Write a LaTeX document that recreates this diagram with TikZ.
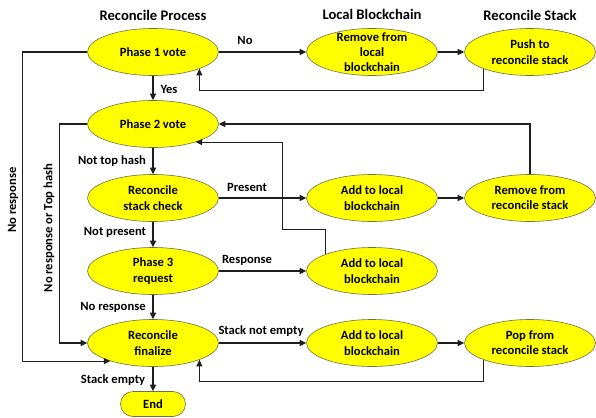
\documentclass[tikz,border=0pt]{standalone}
\usepackage{fontspec}
\setmainfont{Carlito}
\usetikzlibrary{shapes.geometric,shapes.misc,arrows.meta}
\definecolor{boxfill}{RGB}{255,255,0}
\definecolor{boxline}{RGB}{110,110,80}
\definecolor{wire}{RGB}{30,30,30}
\tikzset{
  stepnode/.style={ellipse, draw=boxline, line width=0.6pt, fill=boxfill,
    minimum width=131pt, minimum height=47pt, inner sep=0pt, align=center,
    font=\fontsize{12.6}{15.3}\selectfont\bfseries},
  endnode/.style={rounded rectangle, draw=boxline, line width=0.6pt, fill=boxfill,
    minimum width=65pt, minimum height=25pt, inner sep=0pt,
    font=\fontsize{12.6}{15.3}\selectfont\bfseries},
  header/.style={font=\fontsize{14.6}{17}\selectfont\bfseries, inner sep=0pt},
  lbl/.style={font=\fontsize{12.6}{14}\selectfont\bfseries, inner sep=0pt},
  arr/.style={draw=wire, line width=1.1pt, -{Triangle[length=6.5pt,width=6pt]}}
}
\begin{document}
\begin{tikzpicture}[x=1pt,y=-1pt]
\useasboundingbox (0,0) rectangle (596,417);

% column headers
\node[header] (h1) at (153,15) {Reconcile Process};
\node[header] (h2) at (372,14) {Local Blockchain};
\node[header] (h3) at (530,15) {Reconcile Stack};

% states
\node[stepnode] (p1)   at (153,52)  {Phase 1 vote};
\node[stepnode, inner ysep=-7pt] (rml) at (372,52) {Remove from\\local\\blockchain};
\node[stepnode] (push) at (530,52)  {Push to\\reconcile stack};
\node[stepnode] (p2)   at (153,124) {Phase 2 vote};
\node[stepnode] (chk)  at (153,198) {Reconcile\\stack check};
\node[stepnode] (add3) at (372,198) {Add to local\\blockchain};
\node[stepnode] (rms)  at (530,198) {Remove from\\reconcile stack};
\node[stepnode] (p3)   at (153,271) {Phase 3\\request};
\node[stepnode] (add4) at (372,271) {Add to local\\blockchain};
\node[stepnode] (fin)  at (153,343) {Reconcile\\finalize};
\node[stepnode] (add5) at (372,343) {Add to local\\blockchain};
\node[stepnode] (pop)  at (530,343) {Pop from\\reconcile stack};
\node[endnode]  (end)  at (153,404) {End};

% main flow
\draw[arr] (p1) -- (rml);
\draw[arr] (rml) -- (push);
\draw[arr] (push.200) |- ++(0,22) -| (p1.-20);
\draw[arr] (p1) -- (p2);
\draw[arr] (p1.west) -- ++(-65,0) |- (fin.203);
\draw[arr] (p2.west) -- ++(-28,0) |- (fin.west);
\draw[arr] (p2) -- (chk);
\draw[arr] (chk) -- (add3);
\draw[arr] (add3) -- (rms);
\draw[arr] (rms.north) |- (p2.east);
\draw[arr] (chk) -- (p3);
\draw[arr] (p3) -- (add4);
\draw[arr] (add4.160) |- ++(-43,-25) |- (p2.-23);
\draw[arr] (p3) -- (fin);
\draw[arr] (fin) -- (add5);
\draw[arr] (add5) -- (pop);
\draw[arr] (pop.200) |- ++(0,22) -| (fin.-20);
\draw[arr] (fin) -- (end);

% connector labels
\node[lbl] (lno)   at (245,40)  {No};
\node[lbl] (lyes)  at (169,89)  {Yes};
\node[lbl] (lnth)  at (112,161) {Not top hash};
\node[lbl] (lpres) at (247,187) {Present};
\node[lbl] (lnp)   at (115,232) {Not present};
\node[lbl] (lresp) at (247,260) {Response};
\node[lbl] (lnr)   at (113,307) {No response};
\node[lbl] (lsne)  at (261,331) {Stack not empty};
\node[lbl] (lse)   at (113,380) {Stack empty};
\node[lbl, rotate=90] (lnr2) at (13,200) {No response};
\node[lbl, rotate=90] (lnrt) at (49,228) {No response or Top hash};
\end{tikzpicture}
\end{document}
